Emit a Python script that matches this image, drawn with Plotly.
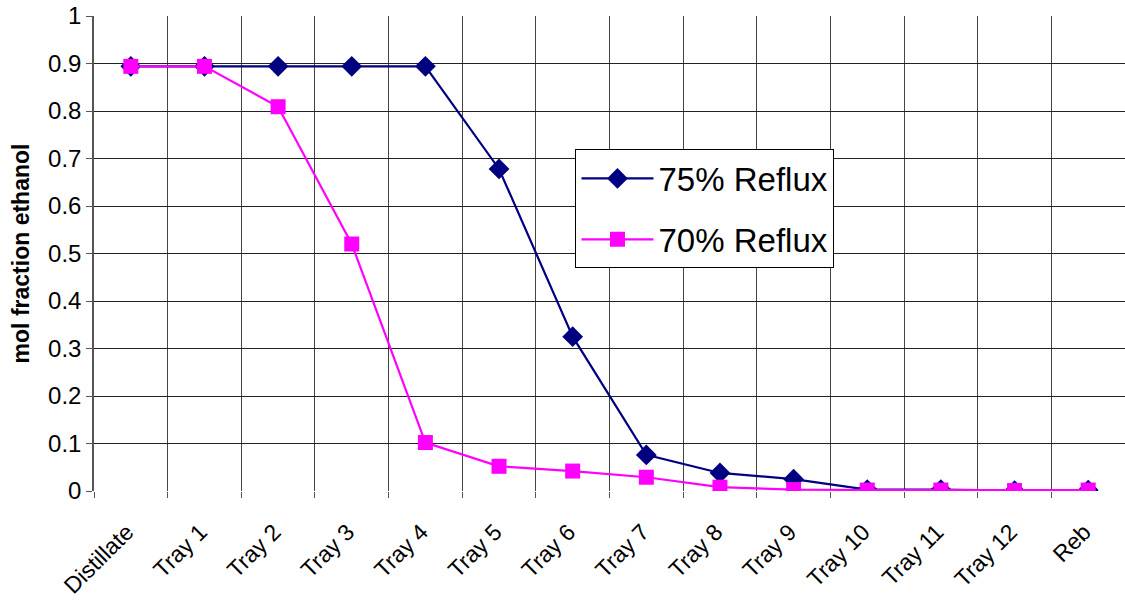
import plotly.graph_objects as go

stages = ["Distillate", "Tray 1", "Tray 2", "Tray 3", "Tray 4", "Tray 5", "Tray 6",
          "Tray 7", "Tray 8", "Tray 9", "Tray 10", "Tray 11", "Tray 12", "Reb"]
reflux_75 = [0.894, 0.894, 0.894, 0.894, 0.894, 0.678, 0.325, 0.076, 0.038, 0.025,
             0.003, 0.003, 0.001, 0.002]
reflux_70 = [0.894, 0.894, 0.809, 0.520, 0.102, 0.052, 0.042, 0.029, 0.008, 0.003,
             0.002, 0.002, 0.001, 0.002]
y_ticks = [0, 0.1, 0.2, 0.3, 0.4, 0.5, 0.6, 0.7, 0.8, 0.9, 1]
y_labels = ["0", "0.1", "0.2", "0.3", "0.4", "0.5", "0.6", "0.7", "0.8", "0.9", "1"]

pos = list(range(len(stages)))
bounds = [i - 0.5 for i in range(len(stages) + 1)]
FONT = "Liberation Sans, Arial, sans-serif"

fig = go.Figure()
fig.add_trace(go.Scatter(
    x=pos, y=reflux_75, name="75% Reflux", mode="lines+markers", legendgroup="a",
    line=dict(color="#000080", width=2.2),
    marker=dict(symbol="diamond", size=16, color="#000080"),
))
fig.add_trace(go.Scatter(
    x=pos, y=reflux_70, name="70% Reflux", mode="lines+markers", legendgroup="b",
    line=dict(color="#FF00FF", width=2.2),
    marker=dict(symbol="square", size=15, color="#FF00FF"),
))

fig.update_layout(
    width=1125, height=603,
    margin=dict(l=94, r=0, t=16, b=112, autoexpand=False),
    paper_bgcolor="white", plot_bgcolor="white",
    font=dict(family=FONT, color="black"),
    showlegend=True,
    legend=dict(
        x=0.467, y=0.719, xanchor="left", yanchor="top",
        bgcolor="white", bordercolor="black", borderwidth=1,
        font=dict(size=33, family=FONT, color="black"),
        itemwidth=72, tracegroupgap=15,
    ),
    xaxis=dict(
        range=[-0.5, len(stages) - 0.5], tickmode="array", tickvals=pos, ticktext=stages,
        tickangle=-45, tickfont=dict(size=23, family=FONT, color="black"),
        ticks="", ticklabelstandoff=22, ticklabelshift=-4, showgrid=False,
        # category boundaries carry the vertical grid and tick marks
        minor=dict(tickmode="array", tickvals=bounds, showgrid=True, gridcolor="#444444",
                   gridwidth=1, ticks="outside", ticklen=6, tickcolor="#555555"),
        zeroline=False, showline=False,
    ),
    yaxis=dict(
        range=[0, 1], tickmode="array", tickvals=y_ticks, ticktext=y_labels,
        tickfont=dict(size=24, family=FONT, color="black"),
        showgrid=True, gridcolor="#222222", gridwidth=1,
        ticks="outside", ticklen=6, tickcolor="#555555",
        showline=True, linecolor="#555555", linewidth=1.5,
        zeroline=False,
        title=dict(text="<b>mol fraction ethanol</b>", font=dict(size=23, family=FONT),
                   standoff=12),
    ),
)

fig.write_html("out.html")
